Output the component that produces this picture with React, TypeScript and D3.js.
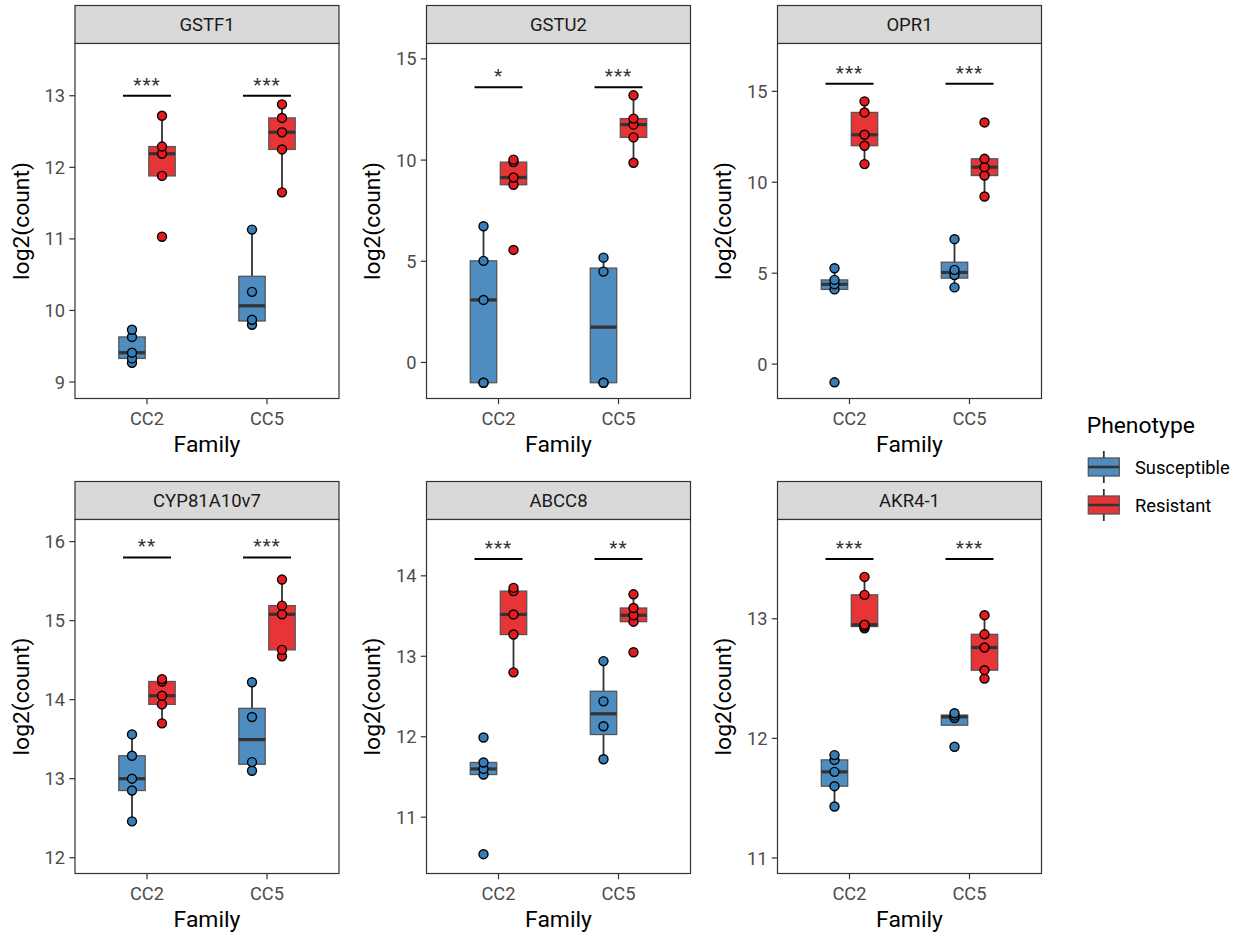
import React from "react";
import * as d3 from "d3";

// ---------- data ----------
const genes = ["GSTF1", "GSTU2", "OPR1", "CYP81A10v7", "ABCC8", "AKR4-1"];
const families = ["CC2", "CC5"];
const phenotypes = ["Susceptible", "Resistant"];
const phenoColors = ["#377EB8", "#E41A1C"];

// values[familyIndex][phenotypeIndex]
const valuesGSTF1 = [
  [[9.27, 9.33, 9.41, 9.63, 9.73], [11.03, 11.88, 12.19, 12.29, 12.72]],
  [[9.8, 9.87, 10.26, 11.13], [11.65, 12.25, 12.49, 12.69, 12.88]],
];
const valuesGSTU2 = [
  [[-1, -1, 3.09, 5.02, 6.73], [5.56, 8.78, 9.14, 9.9, 10.02]],
  [[-1, -1, 4.49, 5.18], [9.87, 11.12, 11.75, 12.05, 13.2]],
];
const valuesOPR1 = [
  [[-1, 4.11, 4.39, 4.63, 5.27], [11.0, 12.01, 12.61, 13.84, 14.45]],
  [[4.22, 4.9, 5.18, 6.87], [9.22, 10.37, 10.83, 11.29, 13.29]],
];
const valuesCYP81A10v7 = [
  [[12.46, 12.85, 13.0, 13.29, 13.56], [13.7, 13.94, 14.05, 14.23, 14.26]],
  [[13.1, 13.21, 13.78, 14.22], [14.55, 14.63, 15.08, 15.19, 15.52]],
];
const valuesABCC8 = [
  [[10.54, 11.53, 11.6, 11.68, 11.99], [12.8, 13.27, 13.52, 13.81, 13.85]],
  [[11.72, 12.13, 12.44, 12.94], [13.05, 13.43, 13.51, 13.6, 13.77]],
];
const valuesAKR41 = [
  [[11.43, 11.6, 11.72, 11.82, 11.86], [12.92, 12.935, 12.95, 13.2, 13.35]],
  [[11.93, 12.17, 12.19, 12.21], [12.5, 12.57, 12.76, 12.87, 13.03]],
];
const allValues = [valuesGSTF1, valuesGSTU2, valuesOPR1, valuesCYP81A10v7, valuesABCC8, valuesAKR41];

const sigLabels = [
  ["***", "***"],
  ["*", "***"],
  ["***", "***"],
  ["**", "***"],
  ["***", "**"],
  ["***", "***"],
];
const sigY = [13.0, 13.6, 15.42, 15.8, 14.21, 13.5];

const yTicks = [
  [9, 10, 11, 12, 13],
  [0, 5, 10, 15],
  [0, 5, 10, 15],
  [12, 13, 14, 15, 16],
  [11, 12, 13, 14],
  [11, 12, 13],
];
const yDomains = [
  [8.77, 13.73],
  [-1.78, 15.76],
  [-1.89, 17.63],
  [11.8, 16.28],
  [10.3, 14.7],
  [10.87, 13.83],
];

// ---------- layout ----------
const W = 1249;
const H = 938;
const FONT = "Roboto, 'Noto Sans', Arial, sans-serif";
const colLefts = [75, 426.5, 777.5];
const panelW = 264;
const stripTops = [5.5, 481.5];
const stripH = 38;
const panelBottoms = [398.5, 873.5];
const dodge = 0.125;
const boxW = 0.22;
const sigHalf = 0.2;

function boxStats(vals: number[]) {
  const s = vals.slice().sort((a, b) => a - b);
  const q1 = d3.quantile(s, 0.25) as number;
  const med = d3.quantile(s, 0.5) as number;
  const q3 = d3.quantile(s, 0.75) as number;
  const iqr = q3 - q1;
  const lo = d3.min(s.filter((v) => v >= q1 - 1.5 * iqr)) as number;
  const hi = d3.max(s.filter((v) => v <= q3 + 1.5 * iqr)) as number;
  return { q1, med, q3, lo, hi };
}

function fade(c: string, a: number) {
  const col = d3.rgb(c);
  const m = (v: number) => Math.round(v * a + 255 * (1 - a));
  return d3.rgb(m(col.r), m(col.g), m(col.b)).formatHex();
}

function Panel({ gi }: { gi: number }) {
  const row = Math.floor(gi / 3);
  const col = gi % 3;
  const left = colLefts[col];
  const stripTop = stripTops[row];
  const top = stripTop + stripH;
  const bottom = panelBottoms[row];
  const x = d3.scaleLinear().domain([0.4, 2.6]).range([left, left + panelW]);
  const y = d3.scaleLinear().domain(yDomains[gi]).range([bottom, top]);
  const vals = allValues[gi];

  return (
    <g>
      {/* strip */}
      <rect x={left} y={stripTop} width={panelW} height={stripH} fill="#D9D9D9" stroke="#333333" strokeWidth={1.2} />
      <text x={left + panelW / 2} y={stripTop + stripH / 2 + 6.7} textAnchor="middle" fontSize={18.5} fill="#1A1A1A" fontFamily={FONT}>
        {genes[gi]}
      </text>
      {/* panel background */}
      <rect x={left} y={top} width={panelW} height={bottom - top} fill="#FFFFFF" />

      {/* boxes */}
      {families.map((fam, fi) =>
        phenotypes.map((ph, pi) => {
          const st = boxStats(vals[fi][pi]);
          const cx = x(fi + 1 + (pi === 0 ? -dodge : dodge));
          const hw = ((x(1 + boxW) - x(1)) / 2);
          return (
            <g key={fam + ph}>
              <line x1={cx} x2={cx} y1={y(st.hi)} y2={y(st.q3)} stroke="#333333" strokeWidth={1.8} />
              <line x1={cx} x2={cx} y1={y(st.q1)} y2={y(st.lo)} stroke="#333333" strokeWidth={1.8} />
              <rect x={cx - hw} y={y(st.q3)} width={2 * hw} height={Math.max(0.5, y(st.q1) - y(st.q3))} fill={fade(phenoColors[pi], 0.88)} stroke="#555555" strokeWidth={1.3} />
              <line x1={cx - hw} x2={cx + hw} y1={y(st.med)} y2={y(st.med)} stroke="#333333" strokeWidth={3.2} />
            </g>
          );
        })
      )}
      {/* points */}
      {families.map((fam, fi) =>
        phenotypes.map((ph, pi) => {
          const cx = x(fi + 1 + (pi === 0 ? -dodge : dodge));
          return vals[fi][pi].map((v, k) => (
            <circle key={fam + ph + k} cx={cx} cy={y(v)} r={4.5} fill={phenoColors[pi]} stroke="#000000" strokeWidth={1.4} />
          ));
        })
      )}
      {/* significance */}
      {families.map((fam, fi) => (
        <g key={"sig" + fam}>
          <line x1={x(fi + 1 - sigHalf)} x2={x(fi + 1 + sigHalf)} y1={y(sigY[gi])} y2={y(sigY[gi])} stroke="#000000" strokeWidth={2} />
          <text x={x(fi + 1)} y={y(sigY[gi]) - 5} textAnchor="middle" fontSize={19} letterSpacing={1} fill="#333333" fontFamily={FONT}>
            {sigLabels[gi][fi]}
          </text>
        </g>
      ))}

      {/* panel border */}
      <rect x={left} y={top} width={panelW} height={bottom - top} fill="none" stroke="#333333" strokeWidth={1.2} />

      {/* y axis */}
      {yTicks[gi].map((t) => (
        <g key={"yt" + t}>
          <line x1={left - 5.7} x2={left} y1={y(t)} y2={y(t)} stroke="#333333" strokeWidth={1.2} />
          <text x={left - 10} y={y(t)} dy="0.36em" textAnchor="end" fontSize={18.3} fill="#4D4D4D" fontFamily={FONT}>
            {t}
          </text>
        </g>
      ))}
      {/* x axis */}
      {families.map((fam, fi) => (
        <g key={"xt" + fam}>
          <line x1={x(fi + 1)} x2={x(fi + 1)} y1={bottom} y2={bottom + 5.7} stroke="#333333" strokeWidth={1.2} />
          <text x={x(fi + 1)} y={bottom + 26} textAnchor="middle" fontSize={18.3} fill="#4D4D4D" fontFamily={FONT}>
            {fam}
          </text>
        </g>
      ))}
      <text x={left + panelW / 2} y={bottom + 53.3} textAnchor="middle" fontSize={22.9} fill="#000000" fontFamily={FONT}>
        Family
      </text>
      <text
        transform={`translate(${left - 46.5},${(top + bottom) / 2}) rotate(-90)`}
        textAnchor="middle"
        fontSize={22.9}
        fill="#000000"
        fontFamily={FONT}
      >
        log2(count)
      </text>
    </g>
  );
}

function Legend() {
  const lx = 1086.7;
  const keyX = 1088.3;
  const keyW = 31;
  const keyCenters = [467, 505];
  return (
    <g>
      <text x={lx} y={433.3} fontSize={22.9} fill="#000000" fontFamily={FONT}>
        Phenotype
      </text>
      {phenotypes.map((ph, pi) => {
        const cy = keyCenters[pi];
        const cx = keyX + keyW / 2;
        return (
          <g key={ph}>
            <line x1={cx} x2={cx} y1={cy - 16} y2={cy + 16} stroke="#333333" strokeWidth={1.8} />
            <rect x={keyX} y={cy - 9} width={keyW} height={18} fill={fade(phenoColors[pi], 0.88)} stroke="#555555" strokeWidth={1.3} />
            <line x1={keyX} x2={keyX + keyW} y1={cy} y2={cy} stroke="#333333" strokeWidth={2.6} />
            <text x={1135} y={cy} dy="0.36em" fontSize={18.3} fill="#000000" fontFamily={FONT}>
              {ph}
            </text>
          </g>
        );
      })}
    </g>
  );
}

export default function App() {
  return (
    <svg width={W} height={H} style={{ position: "absolute", left: 0, top: 0, background: "#FFFFFF" }} xmlns="http://www.w3.org/2000/svg">
      <rect x={0} y={0} width={W} height={H} fill="#FFFFFF" />
      {genes.map((g, gi) => (
        <Panel key={g} gi={gi} />
      ))}
      <Legend />
    </svg>
  );
}
